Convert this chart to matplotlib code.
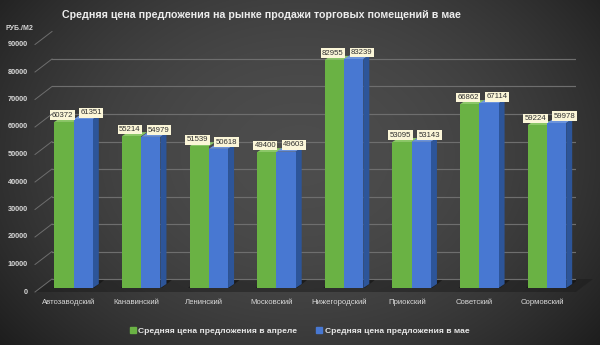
import numpy as np
import matplotlib
matplotlib.use("Agg")
import matplotlib.pyplot as plt
from matplotlib.patches import Rectangle, Polygon
from matplotlib.lines import Line2D
from matplotlib.transforms import ScaledTranslation

# ---- data -------------------------------------------------------------
districts = ["Автозаводский", "Канавинский", "Ленинский", "Московский",
             "Нижегородский", "Приокский", "Советский", "Сормовский"]
april = [60372, 55214, 51539, 49400, 82955, 53095, 66862, 59224]
may = [61351, 54979, 50618, 49603, 83239, 53143, 67114, 59978]
series_names = ["Средняя цена предложения в апреле",
                "Средняя цена предложения в мае"]
y_ticks = list(range(0, 90001, 10000))
unit_label = "РУБ./М2"
title = "Средняя цена предложения на рынке продажи торговых помещений в мае"

# ---- style ------------------------------------------------------------
FONT = ["Liberation Sans", "DejaVu Sans"]
plt.rcParams["font.family"] = FONT
GREEN, GREEN_TOP = "#6ab244", "#8cc768"
BLUE, BLUE_TOP, BLUE_SIDE = "#4878d2", "#6b93dc", "#2d5599"
GRID = "#6e6e6e"
TEXT = "#d8d8d8"

W, H, DPI = 600, 345, 100
fig = plt.figure(figsize=(W / DPI, H / DPI), dpi=DPI)

# radial dark-grey background
bg = fig.add_axes([0, 0, 1, 1], zorder=-10)
yy, xx = np.mgrid[0:H, 0:W]
r = np.sqrt(((xx - 0.5 * W) / (0.75 * W)) ** 2 + ((yy - 0.45 * H) / (1.0 * H)) ** 2)
shade = np.clip(0.30 - 0.25 * r ** 2, 0.09, 0.31)
bg.imshow(np.dstack([shade] * 3), aspect="auto", extent=[0, 1, 0, 1])
bg.set_axis_off()

# plotting plane (bar fronts)
left, bottom = 35 / W, (H - 288) / H
ax = fig.add_axes([left, bottom, 541 / W, 247.5 / H])
ax.set_xlim(-0.5, len(districts) - 0.5)
ax.set_ylim(0, 90000)
ax.set_facecolor("none")
for s in ax.spines.values():
    s.set_visible(False)
ax.set_xticks([])
ax.set_yticks([])


def shifted(dx_px, dy_px):
    return ax.transData + ScaledTranslation(dx_px / DPI, dy_px / DPI, fig.dpi_scale_trans)


back = shifted(17, 9)
front = shifted(0, -4)
x0, x1 = -0.5, len(districts) - 0.5

# back-wall gridlines, wall diagonals and value axis labels
for v in y_ticks:
    ax.plot([x0, x1], [v, v], color=GRID, lw=0.85, transform=back, zorder=1)
    p_front = front.transform((x0, v))
    p_back = back.transform((x0, v))
    fig.add_artist(Line2D([p_front[0] / W, p_back[0] / W], [p_front[1] / H, p_back[1] / H],
                          color=GRID, lw=0.7, transform=fig.transFigure))
    ax.text(x0, v, str(v), transform=shifted(-7, -4), ha="right", va="center",
            fontsize=5.3, color=TEXT, fontweight="bold")

# floor shadow
fl = [front.transform((x0, 0)), front.transform((x1, 0)),
      back.transform((x1, 0)), back.transform((x0, 0))]
fig.add_artist(Polygon([(px / W, py / H) for px, py in fl], closed=True,
                       facecolor="#1c1c1c", edgecolor="none", alpha=0.5,
                       transform=fig.transFigure, zorder=0))

# 3-D looking bars
bw = 0.285
ddx = 6 / 67.6          # depth offset along x (category units)
ddy = 4 / 247.5 * 90000  # depth offset along y (value units)
for i, (a, m) in enumerate(zip(april, may)):
    gx = i - 0.215
    bx = gx + bw
    # shadow on floor
    ax.add_patch(Polygon([(gx - 0.02, 0), (bx + bw + 0.02, 0), (bx + bw + ddx + 0.08, 2 * ddy),
                          (gx + ddx, 2 * ddy)], closed=True, facecolor="#101010",
                         edgecolor="none", alpha=0.6, zorder=2))
    # green (april)
    ax.add_patch(Polygon([(gx, a), (gx + bw, a), (gx + bw + ddx, a + ddy), (gx + ddx, a + ddy)],
                         closed=True, facecolor=GREEN_TOP, edgecolor="none", zorder=3))
    ax.add_patch(Rectangle((gx, 0), bw, a, facecolor=GREEN, edgecolor="none", zorder=4))
    # blue (may)
    ax.add_patch(Polygon([(bx, m), (bx + bw, m), (bx + bw + ddx, m + ddy), (bx + ddx, m + ddy)],
                         closed=True, facecolor=BLUE_TOP, edgecolor="none", zorder=5))
    ax.add_patch(Polygon([(bx + bw, 0), (bx + bw + ddx, ddy), (bx + bw + ddx, m + ddy), (bx + bw, m)],
                         closed=True, facecolor=BLUE_SIDE, edgecolor="none", zorder=5))
    ax.add_patch(Rectangle((bx, 0), bw, m, facecolor=BLUE, edgecolor="none", zorder=6))

    # value labels
    box = dict(boxstyle="square,pad=0.18", facecolor="#fbf6d8", edgecolor="none")
    ax.annotate(str(a), (gx + bw / 2, a), xytext=(-1.1, 4.8), textcoords="offset points",
                ha="center", va="center", fontsize=5.6, color="#303030", bbox=box, zorder=8)
    ax.annotate(str(m), (bx + bw / 2, m), xytext=(5.8, 4.8), textcoords="offset points",
                ha="center", va="center", fontsize=5.6, color="#303030", bbox=box, zorder=8)

    # category labels
    ax.text(i, 0, districts[i], transform=shifted(0, -14), ha="center", va="center",
            fontsize=5.6, color=TEXT)

# unit label and title
fig.text(5 / W, 1 - 29 / H, unit_label, ha="left", va="center", fontsize=5,
         color=TEXT, fontweight="bold")
fig.text(261 / W, 1 - 15 / H, title, ha="center", va="center", fontsize=7.7,
         color="#ececec", fontweight="bold")

# legend
handles = [Line2D([], [], ls="none", marker="s", markersize=4.5, color=GREEN),
           Line2D([], [], ls="none", marker="s", markersize=4.5, color=BLUE)]
leg = fig.legend(handles, series_names, loc="center", bbox_to_anchor=(0.5, 1 - 331 / H),
                 ncol=2, frameon=False, fontsize=6.1, handlelength=0.6, handletextpad=0.3,
                 columnspacing=2.3, labelcolor="#e6e6e6")
for t in leg.get_texts():
    t.set_fontweight("bold")

fig.savefig("out.png", dpi=DPI)
